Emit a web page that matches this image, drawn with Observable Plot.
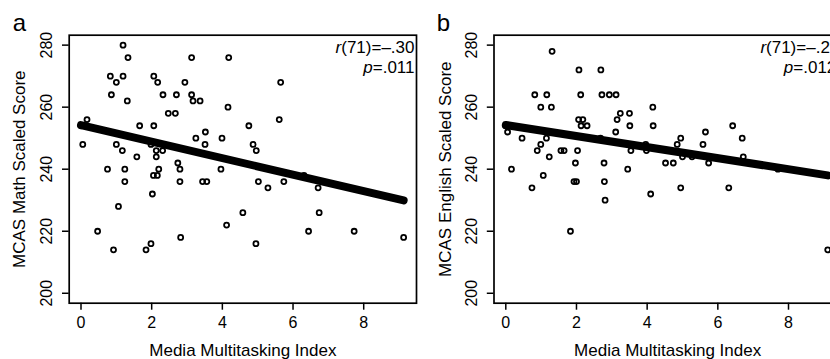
<!DOCTYPE html>
<html><head><meta charset="utf-8">
<script src="https://cdn.jsdelivr.net/npm/d3@7"></script>
<script src="https://cdn.jsdelivr.net/npm/@observablehq/plot@0.6"></script>
<style>
html,body{margin:0;padding:0;background:#fff;overflow:hidden;}
#wrap{position:relative;width:830px;height:359px;overflow:hidden;background:#fff;}
#wrap svg{position:absolute;top:0;}
</style></head><body><div id="wrap"></div>
<script>
// Panel a: Media Multitasking Index vs MCAS Math Scaled Score
const mmiMath = [0.05,0.17,1.19,1.33,0.83,1.0,1.19,0.86,1.31,1.0,1.17,1.24,0.75,1.58,1.66,2.06,2.17,2.32,2.06,2.47,2.67,2.70,2.94,3.13,3.13,3.17,3.37,3.25,3.52,3.51,4.18,4.16,3.99,3.96,4.75,4.87,4.96,5.65,5.61,1.98,2.13,2.31,2.13,2.2,2.05,2.16,2.74,2.8,6.31,1.24,2.02,1.06,0.47,0.92,1.84,1.98,2.82,2.80,3.44,3.56,4.12,4.58,4.95,5.02,5.29,5.74,6.71,6.74,6.44,7.73,9.13,0.0];
const mathScore = [248,256,280,276,270,268,270,264,262,248,246,240,240,244,254,270,268,264,254,258,258,264,268,276,264,262,262,250,252,248,276,260,250,240,254,248,246,268,256,248,246,246,244,240,238,238,242,240,238,236,232,228,220,214,214,216,218,236,236,236,222,226,216,236,234,236,234,226,220,220,218,254];
// Panel b: Media Multitasking Index vs MCAS English Scaled Score
const mmiEng = [0.05,0.16,0.46,0.82,1.16,0.99,1.29,1.31,0.89,0.99,1.15,1.23,1.06,1.56,1.65,2.07,2.69,2.12,2.72,2.93,3.12,2.06,2.18,2.13,2.30,3.24,3.15,3.11,3.50,3.51,4.16,4.17,2.03,1.97,2.78,3.45,3.54,2.68,3.96,3.98,4.52,4.74,4.85,4.95,5.0,5.27,5.58,5.65,5.74,6.42,6.69,6.72,7.70,0.74,1.93,2.0,2.79,2.81,1.83,4.10,4.95,6.31,9.11,0.0];
const engScore = [252,240,250,264,264,260,260,278,246,248,250,244,238,246,246,272,272,264,264,264,264,256,256,254,254,258,256,252,258,254,260,254,246,242,242,240,246,250,248,246,242,242,248,250,244,244,248,252,242,254,250,244,240,234,236,236,236,230,220,232,234,234,214,254];

const xTicks = [0,2,4,6,8];
const yTicks = [200,220,240,260,280];
const xLabel = "Media Multitasking Index";
const panels = [
  {letter:"a", yLabel:"MCAS Math Scaled Score", xs:mmiMath, ys:mathScore, stat:["r(71)=–.30","p=.011"]},
  {letter:"b", yLabel:"MCAS English Scaled Score", xs:mmiEng, ys:engScore, stat:["r(71)=–.29","p=.012"]}
];

const layout = [
  {left:0, width:420, ml:68.7, mr:4, tickDx:-22.5, titleDx:-50, letterDx:-49.7, statDx:-2, pDx:-2},
  {left:420, width:430, ml:73.5, mr:9.2, tickDx:-22, titleDx:-48.5, letterDx:-50.5, statDx:-2, pDx:-5}
];

const FONT = "Liberation Sans, Arial, Helvetica, sans-serif";
const wrap = document.getElementById("wrap");

panels.forEach((p, i) => {
  const L = layout[i];
  const data = p.xs.map((x, k) => ({x, y: p.ys[k]}));
  const svg = Plot.plot({
    width: L.width, height: 359,
    marginLeft: L.ml, marginRight: L.mr, marginTop: 34.7, marginBottom: 56.3,
    style: {fontFamily: FONT, fontSize: "16px", background: "white", color: "black", overflow: "visible"},
    x: {domain: [-0.334, 9.494]},
    y: {domain: [196.8, 283.2]},
    marks: [
      Plot.dot(data, {x: "x", y: "y", r: 2.5, stroke: "black", strokeWidth: 1.8, fill: "none"}),
      Plot.linearRegressionY(data, {x: "x", y: "y", stroke: "black", strokeWidth: 8, strokeLinecap: "round", ci: 0}),
      Plot.frame({stroke: "black", strokeWidth: 1.7}),
      Plot.axisX({ticks: xTicks, tickSize: 7, tickPadding: 6, fontSize: 16, label: null, strokeWidth: 1.5, fill: "black"}),
      Plot.axisY({ticks: yTicks, tickSize: 6.7, tickFormat: () => "", label: null, strokeWidth: 1.5}),
      Plot.text(yTicks, {y: d => d, text: d => String(d), frameAnchor: "left", dx: L.tickDx, rotate: -90, textAnchor: "middle", lineAnchor: "middle", fontSize: 16, fill: "black"}),
      Plot.text([p.yLabel], {text: d => d, frameAnchor: "left", dx: L.titleDx, rotate: -90, textAnchor: "middle", lineAnchor: "middle", fontSize: 17, fill: "black"}),
      Plot.text([xLabel], {text: d => d, frameAnchor: "bottom", dy: 47.5, textAnchor: "middle", lineAnchor: "middle", fontSize: 17, fill: "black"}),
      Plot.text([p.letter], {text: d => d, frameAnchor: "top-left", dx: L.letterDx, dy: -4.7, textAnchor: "middle", lineAnchor: "bottom", fontSize: 24, fill: "black"}),
      Plot.text([p.stat[0]], {text: d => d, frameAnchor: "top-right", dx: L.statDx, dy: 12.3, textAnchor: "end", lineAnchor: "middle", fontSize: 17, fill: "black"}),
      Plot.text([p.stat[1]], {text: d => d, frameAnchor: "top-right", dx: L.pDx, dy: 32.3, textAnchor: "end", lineAnchor: "middle", fontSize: 17, fill: "black"})
    ]
  });
  // italicize the statistic symbols r and p
  svg.querySelectorAll("text").forEach(t => {
    const s = t.textContent;
    if (/^(r\(|p=)/.test(s) && t.children.length === 0) {
      t.textContent = "";
      const it = document.createElementNS("http://www.w3.org/2000/svg", "tspan");
      it.setAttribute("font-style", "italic");
      it.textContent = s[0];
      t.appendChild(it);
      t.appendChild(document.createTextNode(s.slice(1)));
    }
  });
  svg.style.left = L.left + "px";
  wrap.appendChild(svg);
});
</script>
</body></html>
